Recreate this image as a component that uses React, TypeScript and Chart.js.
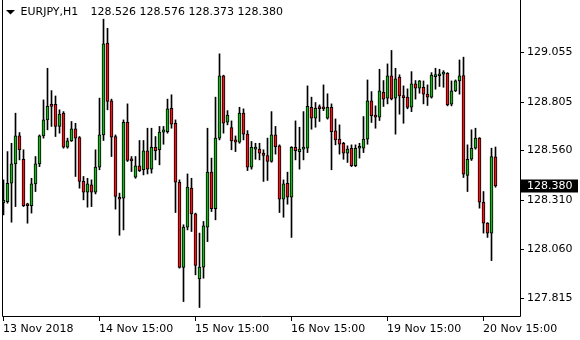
import React, { useEffect, useRef } from "react";
import { Chart, registerables } from "chart.js";

Chart.register(...registerables);

const symbolTitle = "EURJPY,H1";

const opens = [
  128.295, 128.300, 128.393, 128.491, 128.632, 128.514, 128.282, 128.280, 128.390, 128.491,
  128.632, 128.713, 128.789, 128.792, 128.680, 128.747, 128.575, 128.607, 128.668, 128.624,
  128.402, 128.348, 128.385, 128.348, 128.474, 128.637, 129.101, 128.809, 128.629, 128.322,
  128.317, 128.701, 128.508, 128.424, 128.481, 128.461, 128.557, 128.464, 128.575, 128.562,
  128.651, 128.654, 128.772, 128.696, 128.398, 127.967, 128.171, 128.368, 128.238, 127.910,
  127.969, 128.171, 128.449, 128.264, 128.621, 128.936, 128.701, 128.674, 128.612, 128.600,
  128.747, 128.641, 128.474, 128.565, 128.565, 128.545, 128.533, 128.503, 128.637, 128.582,
  128.312, 128.393, 128.322, 128.575, 128.553, 128.565, 128.570, 128.777, 128.722, 128.772,
  128.777, 128.722, 128.777, 128.658, 128.616, 128.595, 128.545, 128.570, 128.482, 128.570,
  128.570, 128.616, 128.809, 128.735, 128.727, 128.853, 128.823, 128.936, 128.823, 128.929,
  128.828, 128.828, 128.777, 128.895, 128.873, 128.878, 128.843, 128.828, 128.932, 128.936,
  128.944, 128.949, 128.792, 128.860, 128.910, 128.937, 128.432, 128.514, 128.570, 128.621,
  128.297, 128.191, 128.141, 128.526,
];

const highs = [
  128.410, 128.553, 128.595, 128.747, 128.649, 128.562, 128.292, 128.418, 128.528, 128.637,
  128.814, 128.974, 128.861, 128.834, 128.764, 128.755, 128.621, 128.705, 128.696, 128.629,
  128.427, 128.418, 128.410, 128.562, 128.823, 129.222, 129.176, 128.818, 128.637, 128.343,
  128.713, 128.794, 128.528, 128.528, 128.609, 128.609, 128.671, 128.671, 128.629, 128.680,
  128.680, 128.818, 128.840, 128.713, 128.410, 128.183, 128.440, 128.418, 128.242, 128.141,
  128.200, 128.671, 128.520, 128.828, 129.047, 128.939, 128.760, 128.708, 128.632, 128.777,
  128.769, 128.659, 128.604, 128.595, 128.595, 128.562, 128.621, 128.755, 128.680, 128.587,
  128.410, 128.449, 128.578, 128.708, 128.676, 128.755, 128.885, 128.828, 128.801, 128.789,
  128.890, 128.845, 128.794, 128.718, 128.688, 128.600, 128.582, 128.587, 128.587, 128.595,
  128.730, 128.915, 128.856, 128.784, 128.969, 128.912, 128.996, 129.064, 128.974, 128.941,
  128.885, 128.870, 128.957, 128.912, 128.912, 128.910, 128.890, 128.952, 128.974, 128.969,
  128.962, 128.952, 128.910, 128.915, 129.016, 129.030, 128.587, 128.663, 128.671, 128.624,
  128.351, 128.194, 128.570, 128.576,
];

const lows = [
  128.233, 128.292, 128.196, 128.275, 128.511, 128.275, 128.191, 128.242, 128.351, 128.477,
  128.621, 128.663, 128.680, 128.629, 128.646, 128.570, 128.570, 128.604, 128.427, 128.368,
  128.309, 128.272, 128.275, 128.339, 128.461, 128.609, 128.764, 128.528, 128.262, 128.130,
  128.157, 128.503, 128.452, 128.418, 128.452, 128.435, 128.440, 128.444, 128.511, 128.486,
  128.590, 128.646, 128.671, 128.245, 127.964, 127.795, 128.157, 128.149, 127.930, 127.765,
  127.913, 128.098, 128.250, 128.208, 128.612, 128.646, 128.688, 128.562, 128.553, 128.595,
  128.612, 128.457, 128.464, 128.514, 128.511, 128.402, 128.407, 128.499, 128.540, 128.245,
  128.221, 128.287, 128.119, 128.511, 128.464, 128.511, 128.548, 128.666, 128.676, 128.705,
  128.760, 128.717, 128.461, 128.587, 128.540, 128.514, 128.498, 128.477, 128.477, 128.520,
  128.548, 128.590, 128.700, 128.671, 128.710, 128.781, 128.794, 128.814, 128.641, 128.742,
  128.696, 128.769, 128.755, 128.818, 128.848, 128.794, 128.786, 128.823, 128.868, 128.882,
  128.878, 128.784, 128.784, 128.856, 128.843, 128.422, 128.351, 128.508, 128.565, 128.267,
  128.141, 128.119, 128.002, 128.373,
];

const closes = [
  128.306, 128.393, 128.491, 128.632, 128.562, 128.280, 128.279, 128.390, 128.491, 128.632,
  128.713, 128.781, 128.781, 128.680, 128.742, 128.575, 128.607, 128.668, 128.621, 128.402,
  128.348, 128.390, 128.348, 128.474, 128.637, 129.097, 128.806, 128.626, 128.326, 128.312,
  128.701, 128.508, 128.506, 128.481, 128.457, 128.557, 128.464, 128.575, 128.558, 128.651,
  128.663, 128.769, 128.691, 128.398, 127.967, 128.171, 128.373, 128.238, 127.977, 127.969,
  128.178, 128.449, 128.264, 128.621, 128.936, 128.696, 128.738, 128.607, 128.600, 128.747,
  128.641, 128.474, 128.575, 128.573, 128.545, 128.533, 128.503, 128.637, 128.578, 128.312,
  128.390, 128.322, 128.575, 128.558, 128.565, 128.573, 128.781, 128.722, 128.772, 128.770,
  128.769, 128.777, 128.654, 128.612, 128.590, 128.545, 128.565, 128.482, 128.570, 128.572,
  128.616, 128.809, 128.735, 128.727, 128.860, 128.818, 128.936, 128.819, 128.920, 128.834,
  128.826, 128.776, 128.895, 128.873, 128.910, 128.843, 128.828, 128.939, 128.939, 128.946,
  128.947, 128.789, 128.860, 128.910, 128.936, 128.439, 128.514, 128.570, 128.621, 128.297,
  128.191, 128.141, 128.528, 128.380,
];

const priceTicks = [127.815, 128.06, 128.31, 128.56, 128.805, 129.055];
const timeLabels = ["13 Nov 2018", "14 Nov 15:00", "15 Nov 15:00", "16 Nov 15:00", "19 Nov 15:00", "20 Nov 15:00"];
const timeLabelBars = [0, 24, 48, 72, 96, 120];

const priceMin = 127.722;
const priceMax = 129.319;
const barMin = -0.375;
const barMax = 129.125;

const BULL = "#19B419";
const BEAR = "#F01414";
const FONT = '11px "DejaVu Sans", sans-serif';

export default function App() {
  const canvasRef = useRef<HTMLCanvasElement | null>(null);

  useEffect(() => {
    const canvas = canvasRef.current;
    if (!canvas) return;

    const bodyColors = opens.map((o, i) => (closes[i] > o ? BULL : BEAR));

    const overlay = {
      id: "mtOverlay",
      afterDraw(chart: any) {
        const ctx = chart.ctx as CanvasRenderingContext2D;
        const xs = chart.scales.x;
        const ys = chart.scales.y;
        const area = chart.chartArea;
        ctx.save();
        ctx.strokeStyle = "#000";
        ctx.lineWidth = 1;
        // frame
        ctx.beginPath();
        ctx.moveTo(area.left + 0.5, 0);
        ctx.lineTo(area.left + 0.5, area.bottom + 0.5);
        ctx.lineTo(area.right + 0.5, area.bottom + 0.5);
        ctx.lineTo(area.right + 0.5, 0);
        ctx.stroke();

        ctx.font = FONT;
        ctx.fillStyle = "#000";
        ctx.textBaseline = "middle";
        ctx.textAlign = "left";

        // price axis
        priceTicks.forEach((p) => {
          const y = Math.round(ys.getPixelForValue(p)) + 0.5;
          ctx.beginPath();
          ctx.moveTo(area.right + 0.5, y);
          ctx.lineTo(area.right + 4, y);
          ctx.stroke();
          ctx.fillText(p.toFixed(3), area.right + 7, y);
        });

        // time axis
        timeLabelBars.forEach((b, k) => {
          const x = Math.floor(xs.getPixelForValue(b)) + 0.5;
          ctx.beginPath();
          ctx.moveTo(x, area.bottom + 0.5);
          ctx.lineTo(x, area.bottom + 5);
          ctx.stroke();
          ctx.fillText(timeLabels[k], x - 0.5, area.bottom + 13);
        });

        // current price box
        const last = closes[closes.length - 1];
        const yc = ys.getPixelForValue(last);
        ctx.fillStyle = "#000";
        ctx.fillRect(area.right + 1, Math.round(yc) - 6.5, 57, 13);
        ctx.fillStyle = "#fff";
        ctx.fillText(last.toFixed(3), area.right + 7, Math.round(yc));

        // header
        ctx.fillStyle = "#000";
        ctx.beginPath();
        ctx.moveTo(6, 10);
        ctx.lineTo(15, 10);
        ctx.lineTo(10.5, 14.5);
        ctx.closePath();
        ctx.fill();
        const n = opens.length - 1;
        ctx.fillText(symbolTitle, 20.5, 12);
        ctx.fillText(
          [opens[n], highs[n], lows[n], closes[n]].map((v) => v.toFixed(3)).join(" "),
          90.5,
          12
        );
        ctx.restore();
      },
    };

    const chart = new Chart(canvas, {
      type: "bar",
      data: {
        datasets: [
          {
            label: "body",
            data: opens.map((o, i) => ({ x: i, y: [o, closes[i]] })) as any,
            backgroundColor: bodyColors,
            borderColor: "#000",
            borderWidth: 1,
            borderSkipped: false,
            barThickness: 3,
            grouped: false,
            minBarLength: 2,
            order: 0,
          } as any,
          {
            label: "wick",
            data: lows.map((l, i) => ({ x: i, y: [l, highs[i]] })) as any,
            backgroundColor: "#000",
            borderWidth: 0,
            barThickness: 1,
            grouped: false,
            order: 1,
          } as any,
        ],
      },
      options: {
        animation: false,
        responsive: false,
        maintainAspectRatio: false,
        devicePixelRatio: 1,
        events: [],
        layout: { padding: { left: 2, right: 60, top: 0, bottom: 24 } },
        plugins: { legend: { display: false }, tooltip: { enabled: false } },
        scales: {
          x: { type: "linear", min: barMin, max: barMax, display: false, offset: false },
          y: { type: "linear", min: priceMin, max: priceMax, display: false },
        },
      } as any,
      plugins: [overlay],
    });

    return () => chart.destroy();
  }, []);

  return (
    <div style={{ position: "fixed", left: 0, top: 0, width: 580, height: 340, background: "#fff" }}>
      <canvas ref={canvasRef} width={580} height={340} style={{ display: "block" }} />
    </div>
  );
}
